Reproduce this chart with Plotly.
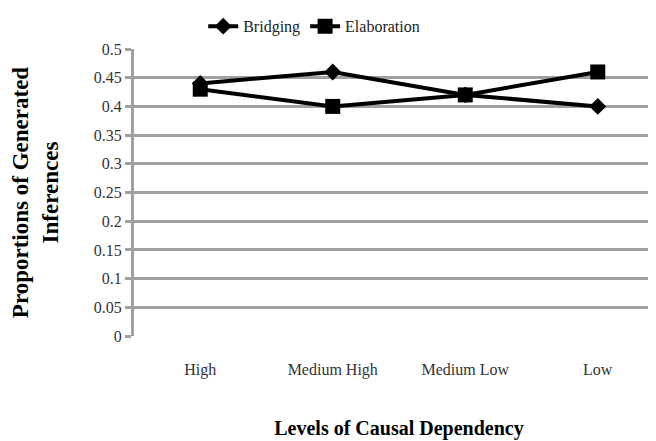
import plotly.graph_objects as go

niveis = ['High', 'Medium High', 'Medium Low', 'Low']
bridging = [0.44, 0.46, 0.42, 0.40]
elaboration = [0.43, 0.40, 0.42, 0.46]
y_ticks = [0, 0.05, 0.1, 0.15, 0.2, 0.25, 0.3, 0.35, 0.4, 0.45, 0.5]
y_tick_text = ['0', '0.05', '0.1', '0.15', '0.2', '0.25', '0.3', '0.35', '0.4', '0.45', '0.5']

serif = 'Liberation Serif, DejaVu Serif, serif'

fig = go.Figure()
fig.add_trace(go.Scatter(
    x=niveis, y=bridging, name='Bridging', mode='lines+markers',
    line=dict(color='black', width=4),
    marker=dict(symbol='diamond', size=13, color='black')
))
fig.add_trace(go.Scatter(
    x=niveis, y=elaboration, name='Elaboration', mode='lines+markers',
    line=dict(color='black', width=4),
    marker=dict(symbol='square', size=15, color='black')
))

fig.update_layout(
    width=656, height=441,
    margin=dict(t=41, b=113, l=126, r=0, autoexpand=False),
    plot_bgcolor='white', paper_bgcolor='white',
    font=dict(family=serif, size=15, color='#333333'),
    showlegend=True,
    legend=dict(orientation='h', x=0.34, xanchor='center', y=1.02, yanchor='bottom',
                font=dict(family=serif, size=16, color='#222222'), bgcolor='rgba(0,0,0,0)',
                tracegroupgap=0, itemwidth=30),
    xaxis=dict(
        range=[-0.5, 3.5], showgrid=False, showline=False, zeroline=False,
        ticks='', ticklabelstandoff=22,
        tickfont=dict(family=serif, size=16, color='#333333'),
        title=dict(text='<b>Levels of Causal Dependency</b>',
                   font=dict(family=serif, size=20, color='black'), standoff=42)
    ),
    yaxis=dict(
        range=[0, 0.5], tickvals=y_ticks, ticktext=y_tick_text,
        showgrid=True, gridcolor='#a0a0a0', gridwidth=3,
        showline=True, linecolor='#a0a0a0', linewidth=3,
        ticks='outside', ticklen=6, tickcolor='#a0a0a0', tickwidth=3,
        zeroline=False,
        tickfont=dict(family=serif, size=16, color='#333333'),
        title=dict(text='<b>Proportions of Generated<br>Inferences</b>',
                   font=dict(family=serif, size=23, color='black'), standoff=30)
    )
)

fig.write_html("out.html")
